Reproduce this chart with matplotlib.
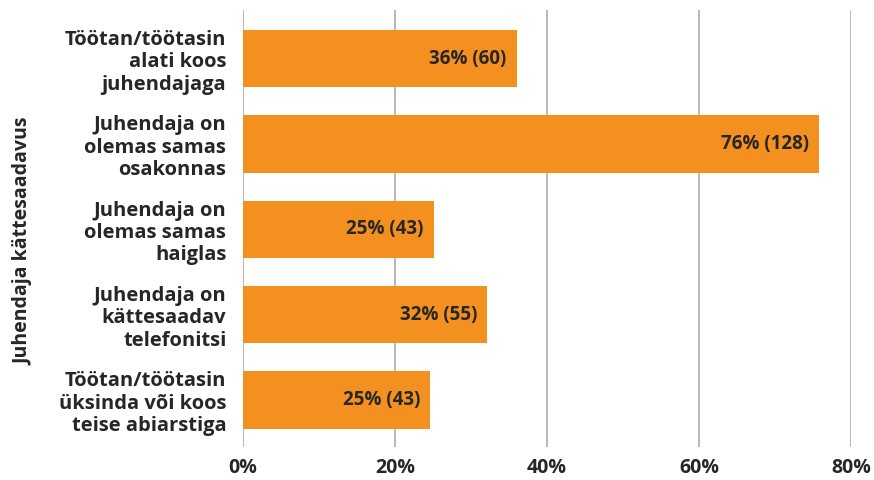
import matplotlib.pyplot as plt

# Data
categories = ['Töötan/töötasin\nalati koos\njuhendajaga',
              'Juhendaja on\nolemas samas\nosakonnas',
              'Juhendaja on\nolemas samas\nhaiglas',
              'Juhendaja on\nkättesaadav\ntelefonitsi',
              'Töötan/töötasin\nüksinda või koos\nteise abiarstiga']
percent = [36.0, 75.8, 25.1, 32.1, 24.6]
labels = ['36% (60)', '76% (128)', '25% (43)', '32% (55)', '25% (43)']
xticks = [0, 20, 40, 60, 80]

plt.rcParams['font.family'] = ['Open Sans', 'DejaVu Sans']
plt.rcParams['font.weight'] = 'bold'
text_color = '#262626'
bar_color = '#F39020'

fig = plt.figure(figsize=(8.74, 4.8), dpi=100)
ax = fig.add_axes([0.278, 0.069, 0.6957, 0.91])

y = list(range(len(categories)))
ax.barh(y, percent, height=0.67, color=bar_color, zorder=2)

for i in range(len(y)):
    ax.annotate(labels[i], xy=(percent[i], y[i]), xytext=(-10, 0),
                textcoords='offset pixels', ha='right', va='center',
                fontsize=13.5, fontweight='bold', color=text_color, zorder=3)

ax.set_xlim(0, 80)
ax.set_ylim(4.55, -0.57)
ax.set_xticks(xticks)
ax.set_xticklabels([str(t) + '%' for t in xticks], fontsize=14,
                   fontweight='bold', color=text_color)
ax.set_yticks(y)
ax.set_yticklabels(categories, fontsize=14.5, fontweight='bold',
                   color=text_color, linespacing=1.15)
ax.tick_params(axis='both', length=0)
ax.tick_params(axis='y', pad=12)
ax.tick_params(axis='x', pad=8)

ax.grid(axis='x', color='#A6A6A6', lw=1.1, zorder=0)
for s in ax.spines.values():
    s.set_visible(False)

ax.set_ylabel('Juhendaja kättesaadavus', fontsize=14, fontweight='bold',
              color=text_color)
ax.yaxis.set_label_coords(-0.345, 0.47)

fig.savefig('out.png', dpi=100)
